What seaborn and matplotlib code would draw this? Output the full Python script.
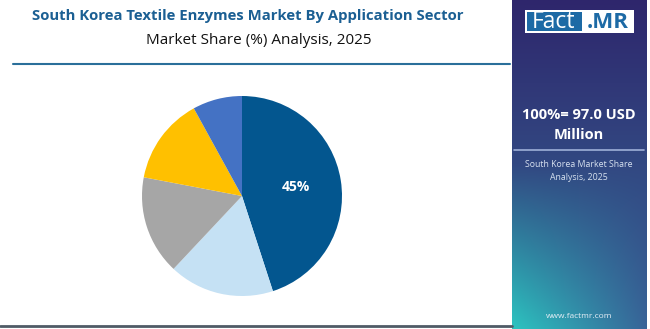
#!/usr/bin/env python3
"""South Korea textile enzymes market share pie, Fact.MR style card."""

import matplotlib.pyplot as plt
import numpy as np
import seaborn as sns
from matplotlib.patches import Rectangle

# data
SECTORS = ["Denim Finishing", "Bio-polishing", "Desizing", "Bleach Clean-up", "Others"]
SHARES = [45, 17, 16, 14, 8]
COLORS = ["#03568f", "#c5e1f4", "#a6a6a6", "#ffc000", "#4472c4"]
SHOWN_LABELS = ["45%", "", "", "", ""]

TITLE = "South Korea Textile Enzymes Market By Application Sector"
SUBTITLE = "Market Share (%) Analysis, 2025"
TOTAL_TEXT = "100%= 97.0 USD\nMillion"
SIDE_NOTE = "South Korea Market Share\nAnalysis, 2025"
SITE = "www.factmr.com"

W, H = 650, 329


def fx(x):
    return x / W


def fy(y):
    return 1 - y / H


def main() -> None:
    sns.set_theme(style="white")
    plt.rcParams["font.family"] = ["Open Sans", "DejaVu Sans"]

    fig = plt.figure(figsize=(W / 100, H / 100), dpi=100)
    fig.patch.set_facecolor("white")

    # side panel with gradient
    side = fig.add_axes([fx(512), 0, fx(647) - fx(512), 1])
    ny, nx = 200, 80
    t = np.linspace(0, 1, ny)[:, None, None]
    s = np.linspace(0, 1, nx)[None, :, None]
    top = np.array([46, 38, 108]) / 255
    mid = np.array([50, 72, 130]) / 255
    bl = np.array([44, 196, 192]) / 255
    br = np.array([56, 100, 152]) / 255
    bottom = bl * (1 - s) + br * s
    upper = top * (1 - t / 0.5) + mid * (t / 0.5)
    lower = mid * (1 - (t - 0.5) / 0.5) + bottom * ((t - 0.5) / 0.5)
    grad = np.clip(np.where(t < 0.5, upper, lower), 0, 1)
    side.imshow(grad, aspect="auto", extent=[0, 1, 0, 1], origin="upper")
    side.set_xlim(0, 1)
    side.set_ylim(0, 1)
    side.axis("off")

    # logo
    fig.patches.append(Rectangle((fx(525), fy(33)), fx(634) - fx(525), fy(10) - fy(33),
                                 transform=fig.transFigure, facecolor="white",
                                 edgecolor="none", zorder=3))
    fig.patches.append(Rectangle((fx(527), fy(31)), fx(582) - fx(527), fy(12) - fy(31),
                                 transform=fig.transFigure, facecolor="#1d6aa5",
                                 edgecolor="none", zorder=4))
    fig.text(fx(554), fy(22), "Fact", color="white", fontsize=16.5, ha="center",
             va="center", zorder=5)
    fig.text(fx(608), fy(22), ".MR", color="#1d6aa5", fontsize=16, ha="center",
             va="center", fontweight="bold", zorder=5)

    fig.text(fx(579), fy(125), TOTAL_TEXT, color="white", fontsize=10.5,
             fontweight="bold", ha="center", va="center", linespacing=1.6)
    fig.add_artist(plt.Line2D([fx(514), fx(644)], [fy(150), fy(150)],
                              color="#9fb0d8", lw=1.2))
    fig.text(fx(579), fy(171), SIDE_NOTE, color="#d8e2f0", fontsize=6.3,
             ha="center", va="center", linespacing=1.5)
    fig.text(fx(579), fy(316), SITE, color="#e6eef6", fontsize=6,
             ha="center", va="center")

    # header
    fig.text(fx(248), fy(16), TITLE, color="#1b5f93", fontsize=10.7,
             fontweight="bold", ha="center", va="center")
    fig.text(fx(259), fy(40), SUBTITLE, color="#111111", fontsize=11,
             ha="center", va="center")
    fig.add_artist(plt.Line2D([fx(13), fx(510)], [fy(64), fy(64)],
                              color="#2a6f9a", lw=1.5))
    fig.add_artist(plt.Line2D([0, fx(512)], [fy(326), fy(326)],
                              color="#4f5b66", lw=2))

    # pie
    ax = fig.add_axes([fx(142), fy(296), fx(200), 200 / H])
    wedges, texts = ax.pie(
        SHARES,
        colors=COLORS,
        startangle=90,
        counterclock=False,
        labels=SHOWN_LABELS,
        labeldistance=0.55,
        wedgeprops={"linewidth": 0},
        textprops={"color": "white", "fontsize": 10, "fontweight": "bold"},
    )
    for text in texts:
        text.set_ha("center")
        text.set_va("center")
    ax.set_xlim(-1, 1)
    ax.set_ylim(-1, 1)
    ax.set_aspect("equal")
    ax.axis("off")

    fig.savefig("out.png", dpi=100)
    plt.close(fig)


if __name__ == "__main__":
    main()
